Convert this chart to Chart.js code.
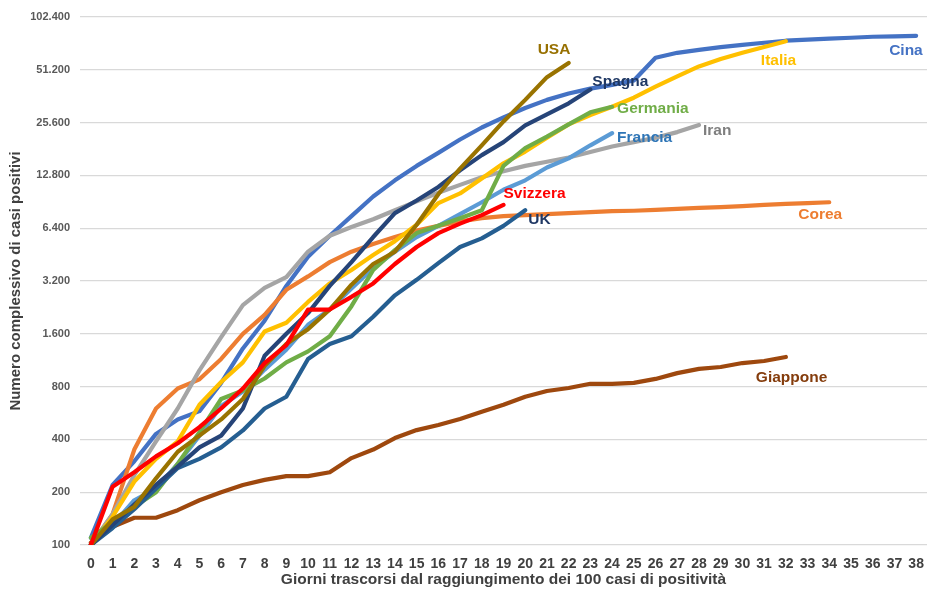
<!DOCTYPE html>
<html lang="it">
<head>
<meta charset="utf-8">
<title>Casi positivi dal giorno dei 100 casi</title>
<script src="https://cdn.jsdelivr.net/npm/chart.js@4.4.1/dist/chart.umd.min.js"></script>
<style>
    html, body { margin: 0; padding: 0; background: #ffffff; }
    #wrap { width: 927px; height: 592px; }
</style>
</head>
<body>
<div id="wrap"><canvas id="grafico" width="927" height="592"></canvas></div>
<script>
// giorni trascorsi (asse x) e tacche dell'asse y
const giorni = ["0", "1", "2", "3", "4", "5", "6", "7", "8", "9", "10", "11", "12", "13", "14", "15", "16", "17", "18", "19",
    "20", "21", "22", "23", "24", "25", "26", "27", "28", "29", "30", "31", "32", "33", "34", "35", "36", "37", "38"];
const tackeY = [100, 200, 400, 800, 1600, 3200, 6400, 12800, 25600, 51200, 102400];

// casi positivi per paese
const svizzera = [100, 215, 260, 320, 380, 470, 600, 780, 1090, 1380, 2200, 2200, 2600, 3100, 4000, 5000, 6000, 6800, 7600, 8700];
const usa = [100, 140, 165, 240, 340, 420, 520, 680, 1050, 1400, 1700, 2200, 3050, 4000, 4700, 6700, 10000, 14000, 19000, 26000, 34500, 46500, 56000];
const spagna = [100, 130, 170, 220, 280, 360, 420, 600, 1200, 1600, 2100, 3000, 4100, 5700, 7800, 9200, 11000, 13700, 16700, 19800, 24700, 28500, 33000, 39500];
const uk = [100, 125, 160, 210, 275, 310, 360, 450, 600, 700, 1150, 1400, 1550, 2000, 2650, 3250, 4050, 5000, 5600, 6600, 8100];
const germania = [110, 135, 165, 200, 290, 440, 680, 760, 890, 1100, 1270, 1550, 2300, 3700, 4800, 6000, 6600, 7300, 8100, 14500, 18300, 21300, 25000, 29300, 31500];
const francia = [100, 130, 180, 210, 290, 420, 620, 750, 1000, 1300, 1800, 2200, 2900, 3800, 4700, 5700, 6600, 7700, 9000, 10600, 12000, 14200, 16000, 19000, 22300];
const italia = [100, 145, 230, 310, 390, 630, 850, 1100, 1650, 1850, 2430, 3100, 3700, 4500, 5400, 6700, 8900, 10100, 12300, 15000,
    17500, 21000, 25000, 28300, 31500, 35500, 41000, 47000, 53500, 59000, 64000, 69000, 74500];
const iran = [100, 150, 250, 390, 600, 990, 1530, 2330, 2920, 3370, 4700, 5800, 6500, 7200, 8100, 9100, 10200, 11300, 12500, 13500,
    14500, 15300, 16200, 17400, 18700, 19800, 21000, 22600, 24800];
const corea = [100, 150, 350, 600, 780, 880, 1150, 1600, 2050, 2850, 3400, 4100, 4700, 5200, 5700, 6200, 6600, 7000, 7300, 7500,
    7600, 7700, 7800, 7900, 8000, 8050, 8150, 8250, 8350, 8450, 8550, 8700, 8800, 8900, 9000];
const cina = [110, 220, 300, 430, 520, 580, 840, 1320, 1900, 3000, 4400, 5800, 7500, 9700, 12000, 14500, 17200, 20500, 24000, 27400,
    31000, 34500, 37500, 40000, 42000, 44500, 60000, 64000, 66500, 69000, 71000, 73000, 75000, 76000, 77000, 78000, 79000, 79500, 80000];
const giappone = [103, 127, 143, 143, 158, 180, 200, 220, 235, 247, 247, 260, 313, 350, 407, 452, 483, 523, 575, 630,
    700, 755, 785, 830, 830, 840, 885, 955, 1010, 1035, 1090, 1120, 1180];

// il primo della lista viene disegnato sopra gli altri
const serie = [
    { nome: "Svizzera", dati: svizzera, colore: "#ff0000", testo: "#ff0000", dx: 0, dy: -11 },
    { nome: "USA", dati: usa, colore: "#997300", testo: "#977000", dx: -31, dy: -13 },
    { nome: "Spagna", dati: spagna, colore: "#264478", testo: "#1f3864", dx: 2, dy: -8 },
    { nome: "UK", dati: uk, colore: "#255e91", testo: "#203864", dx: 3, dy: 9 },
    { nome: "Germania", dati: germania, colore: "#70ad47", testo: "#70ad47", dx: 5, dy: 2 },
    { nome: "Francia", dati: francia, colore: "#5b9bd5", testo: "#2e75b6", dx: 5, dy: 5 },
    { nome: "Italia", dati: italia, colore: "#ffc000", testo: "#ffc000", dx: -25, dy: 19 },
    { nome: "Iran", dati: iran, colore: "#a5a5a5", testo: "#7f7f7f", dx: 4, dy: 6 },
    { nome: "Corea", dati: corea, colore: "#ed7d31", testo: "#ed7d31", dx: -31, dy: 12 },
    { nome: "Cina", dati: cina, colore: "#4472c4", testo: "#4472c4", dx: -27, dy: 15 },
    { nome: "Giappone", dati: giappone, colore: "#9e480e", testo: "#843c0c", dx: -30, dy: 21 }
];

const FONT = "'Liberation Sans', Arial, sans-serif";

function migliaia(v) {
    return String(v).replace(/\B(?=(\d{3})+(?!\d))/g, ".");
}

// etichette con il nome del paese vicino alla fine di ogni linea
const etichette = {
    id: "etichette",
    afterDatasetsDraw(chart) {
        const ctx = chart.ctx;
        ctx.save();
        ctx.font = "bold 15.5px " + FONT;
        ctx.textBaseline = "middle";
        ctx.textAlign = "left";
        chart.data.datasets.forEach((ds, i) => {
            const meta = chart.getDatasetMeta(i);
            const ultimo = meta.data[meta.data.length - 1];
            const s = serie[i];
            ctx.fillStyle = s.testo;
            ctx.fillText(s.nome, ultimo.x + s.dx, ultimo.y + s.dy);
        });
        ctx.restore();
    }
};

const ctx = document.getElementById("grafico");

new Chart(ctx, {
    type: "line",
    data: {
        labels: giorni,
        datasets: serie.map(s => ({
            label: s.nome,
            data: s.dati,
            borderColor: s.colore,
            backgroundColor: s.colore,
            borderWidth: 4.2,
            borderCapStyle: "round",
            borderJoinStyle: "round",
            pointRadius: 0,
            fill: false,
            tension: 0
        }))
    },
    options: {
        responsive: false,
        animation: false,
        layout: { padding: { top: 17, right: 0, bottom: 3, left: 0 } },
        plugins: {
            legend: { display: false },
            tooltip: { enabled: false }
        },
        scales: {
            x: {
                type: "category",
                offset: true,
                grid: { display: false },
                border: { display: false },
                ticks: {
                    color: "#404040",
                    font: { family: FONT, size: 14, weight: "bold" },
                    maxRotation: 0,
                    autoSkip: false,
                    padding: 3
                },
                title: {
                    display: true,
                    text: "Giorni trascorsi dal raggiungimento dei 100 casi di positività",
                    color: "#404040",
                    font: { family: FONT, size: 15.5, weight: "bold" },
                    padding: { top: 1, bottom: 0 }
                },
                afterFit(scale) { scale.height = 44; }
            },
            y: {
                type: "logarithmic",
                min: 100,
                max: 102400,
                grid: { color: "#d9d9d9", lineWidth: 1.3, drawTicks: false },
                border: { display: false },
                ticks: {
                    color: "#595959",
                    font: { family: FONT, size: 11, weight: "bold" },
                    padding: 10,
                    callback: v => migliaia(v)
                },
                afterBuildTicks(scale) {
                    scale.ticks = tackeY.map(v => ({ value: v }));
                },
                title: {
                    display: true,
                    text: "Numero complessivo di casi positivi",
                    color: "#404040",
                    font: { family: FONT, size: 15, weight: "bold" },
                    padding: { top: 7, bottom: 0 }
                },
                afterFit(scale) { scale.width = 80; }
            }
        }
    },
    plugins: [etichette]
});
</script>
</body>
</html>
